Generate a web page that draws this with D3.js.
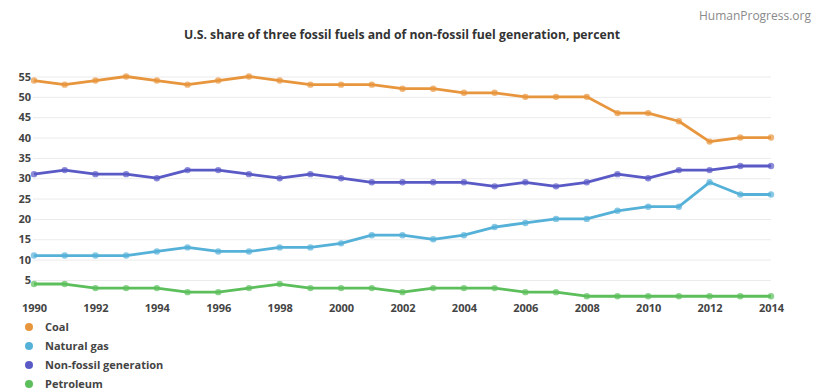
<!DOCTYPE html>
<html><head><meta charset="utf-8">
<script src="https://cdn.jsdelivr.net/npm/d3@7"></script>
<style>body{margin:0;background:#fff;}svg{display:block;font-family:"Open Sans",sans-serif;}</style>
</head><body><svg id="c" width="814" height="391"></svg>
<script>
const years = d3.range(1990, 2015);
const coal = [54,53,54,55,54,53,54,55,54,53,53,53,52,52,51,51,50,50,50,46,46,44,39,40,40];
const naturalGas = [11,11,11,11,12,13,12,12,13,13,14,16,16,15,16,18,19,20,20,22,23,23,29,26,26];
const nonFossil = [31,32,31,31,30,32,32,31,30,31,30,29,29,29,29,28,29,28,29,31,30,32,32,33,33];
const petroleum = [4,4,3,3,3,2,2,3,4,3,3,3,2,3,3,3,2,2,1,1,1,1,1,1,1];
const yTicks = [5,10,15,20,25,30,35,40,45,50,55];
const xTicks = [1990,1992,1994,1996,1998,2000,2002,2004,2006,2008,2010,2012,2014];
const seriesNames = ["Coal","Natural gas","Non-fossil generation","Petroleum"];
const seriesColors = ["#e8963e","#55b1d8","#5a5ac6","#5cbf5c"];
const seriesData = [coal, naturalGas, nonFossil, petroleum];

const svg = d3.select("#c");
const x = d3.scaleLinear().domain([1990,2014]).range([34,771]);
const y = d3.scaleLinear().domain([0,55]).range([300.3,76.5]);

svg.append("text").attr("x",811).attr("y",20).attr("text-anchor","end")
  .attr("fill","#8a8a8a").style("font-size","12px").text("HumanProgress.org");
svg.append("text").attr("x",402).attr("y",39).attr("text-anchor","middle")
  .attr("fill","#333").style("font-size","12px").style("font-weight","bold")
  .attr("textLength",436).attr("lengthAdjust","spacingAndGlyphs")
  .text("U.S. share of three fossil fuels and of non-fossil fuel generation, percent");

// grid
const yAxis = d3.axisLeft(y).tickValues(yTicks).tickSize(-(771-33)).tickPadding(6);
const gy = svg.append("g").attr("transform","translate(33,0)").call(yAxis);
gy.select(".domain").remove();
gy.selectAll(".tick line").attr("stroke","#ebebeb").attr("stroke-width",1);
gy.selectAll(".tick text").attr("x",-2).attr("fill","#444").style("font-size","11px")
  .style("font-weight","bold").attr("text-anchor","end").attr("font-family","Open Sans");

const xAxis = d3.axisBottom(x).tickValues(xTicks).tickFormat(d3.format("d")).tickSize(0).tickPadding(0);
const gx = svg.append("g").attr("transform","translate(0,304)").call(xAxis);
gx.select(".domain").remove();
gx.selectAll(".tick text").attr("dy","0.71em").attr("fill","#444").style("font-size","11px")
  .style("font-weight","bold").attr("font-family","Open Sans");

const line = d3.line().x((d,i)=>x(years[i])).y(d=>y(d));
seriesData.forEach((arr,k)=>{
  svg.append("path").datum(arr).attr("d",line).attr("fill","none")
    .attr("stroke",seriesColors[k]).attr("stroke-width",2.8).attr("stroke-linejoin","round");
  svg.append("g").selectAll("circle").data(arr).join("circle")
    .attr("cx",(d,i)=>x(years[i])).attr("cy",d=>y(d)).attr("r",3.2)
    .attr("fill",seriesColors[k]).attr("fill-opacity",0.7);
});

// legend
const lg = svg.append("g");
seriesNames.forEach((n,k)=>{
  const yy = 327 + k*19;
  lg.append("circle").attr("cx",29).attr("cy",yy).attr("r",4).attr("fill",seriesColors[k]);
  lg.append("text").attr("x",45).attr("y",yy).attr("dy","0.35em").attr("fill","#444")
    .style("font-size","11px").style("font-weight","bold").text(n);
});
</script></body></html>
